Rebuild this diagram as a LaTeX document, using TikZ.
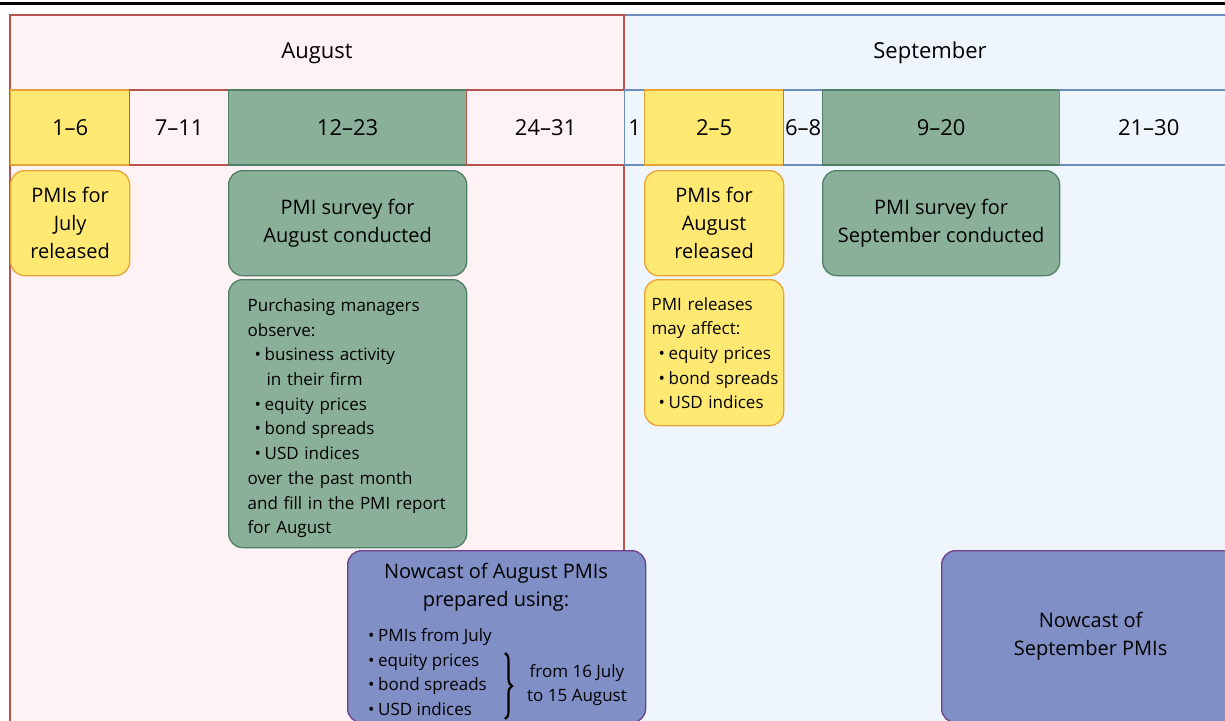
\documentclass[tikz,border=0pt]{standalone}
\usepackage{fontspec}
\setmainfont{Open Sans}
\usetikzlibrary{positioning, decorations.pathreplacing}

\definecolor{AugFill}{HTML}{FFF2F4}
\definecolor{AugLine}{HTML}{B85450}
\definecolor{SepFill}{HTML}{EEF5FC}
\definecolor{SepLine}{HTML}{6C8EBF}
\definecolor{RelFill}{HTML}{FFE972}
\definecolor{RelLine}{HTML}{E8A434}
\definecolor{SrvFill}{HTML}{8AB09A}
\definecolor{SrvLine}{HTML}{4F7F66}
\definecolor{NowFill}{HTML}{808FC5}
\definecolor{NowLine}{HTML}{6F3F8C}

\newcommand{\headfont}{\fontsize{22}{28}\selectfont}
\newcommand{\mainfont}{\fontsize{20}{28}\selectfont}
\newcommand{\smallfont}{\fontsize{17}{24.7}\selectfont}
\newcommand{\itm}[1]{\mbox{\hspace*{7pt}\makebox[10pt][l]{•}#1}}

\tikzset{
  cell/.style={draw, line width=1.3pt, inner sep=0pt, minimum height=75pt,
    anchor=west, font=\headfont},
  augcell/.style={draw=AugLine, fill=AugFill},
  sepcell/.style={draw=SepLine, fill=SepFill},
  relcell/.style={draw=RelLine, fill=RelFill},
  srvcell/.style={draw=SrvLine, fill=SrvFill},
  card/.style={rounded corners=14pt, line width=1.3pt, anchor=north west,
    align=center, font=\mainfont, inner sep=0pt},
  relbox/.style={card, draw=RelLine, fill=RelFill},
  srvbox/.style={card, draw=SrvLine, fill=SrvFill},
  nowbox/.style={card, draw=NowLine, fill=NowFill},
}

\begin{document}
\begin{tikzpicture}[x=1pt, y=-1pt]
  \useasboundingbox (0,0) rectangle (1225,720);
  \clip (0,0) rectangle (1225,720);

  % Rule at the top
  \draw[line width=3pt] (0,3) -- (1225,3);

  % Month frames
  \draw[SepLine, fill=SepFill, line width=1.3pt] (624,15) rectangle (1260,760);
  \draw[AugLine, fill=AugFill, line width=1.3pt] (10,15) rectangle (624,760);
  \node[font=\headfont] (aug) at (317,53) {August};
  \node[font=\headfont] (sep) at (930,53) {September};

  % Day ranges
  \foreach \lab/\x/\w/\sty [count=\i] in
      {1--6/10/119/relcell, 7--11/129/99/augcell,
       12--23/228/238/srvcell, 24--31/466/158/augcell}
    \node[cell, \sty, minimum width=\w pt] (augd\i) at (\x,127.5) {\lab};
  \foreach \lab/\x/\w/\sty [count=\i] in
      {1/624/20/sepcell, 2--5/644/139/relcell, 6--8/783/39/sepcell,
       9--20/822/237/srvcell, 21--30/1059/178/sepcell}
    \node[cell, \sty, minimum width=\w pt] (sepd\i) at (\x,127.5) {\lab};

  % August boxes
  \node[relbox, minimum width=119pt, minimum height=105pt] (julRel)
    at (10,170) {PMIs for\\July\\released};
  \node[srvbox, minimum width=238pt, minimum height=105pt] (augSrv)
    at (228,170) {PMI survey for\\August conducted};
  \node[srvbox, minimum width=238pt, minimum height=268pt, text width=200pt,
        align=left, inner xsep=19pt, font=\smallfont] (augObs) at (228,279)
    {\rule{0pt}{22pt}Purchasing managers\\observe:\\\itm{business activity}\\
     \hspace*{19pt}in their firm\\\itm{equity prices}\\\itm{bond spreads}\\
     \itm{USD indices}\\over the past month\\and fill in the PMI report\\for August};

  % September boxes
  \node[relbox, minimum width=139pt, minimum height=105pt] (augRel)
    at (644,170) {PMIs for\\August\\released};
  \node[relbox, minimum width=139pt, minimum height=146pt, text width=125pt,
        align=left, inner xsep=7pt, font=\smallfont] (relEff) at (644,279)
    {\rule{0pt}{14pt}PMI releases\\may affect:\\\itm{equity prices}\\\itm{bond spreads}\\
     \itm{USD indices}};
  \node[srvbox, minimum width=237pt, minimum height=105pt] (sepSrv)
    at (822,170) {PMI survey for\\September conducted};

  % Nowcasts
  \node[nowbox, minimum width=298pt, minimum height=172pt] (augNow) at (347,550) {};
  \node[font=\mainfont, align=center] (augNowT) at (496,587)
    {Nowcast of August PMIs\\prepared using:};
  \node[font=\smallfont, align=left, anchor=west, inner sep=0pt] (augNowL)
    at (361,672) {\itm{PMIs from July}\\\itm{equity prices}\\
     \itm{bond spreads}\\\itm{USD indices}};
  \coordinate (braceTop) at (505,653);
  \coordinate (braceBot) at (505,719);
  \draw[decorate, decoration={brace, amplitude=7pt}, line width=2.2pt]
    (braceTop) -- (braceBot);
  \node[font=\smallfont, align=center] (augNowR) at (577,685)
    {from 16 July\\to 15 August};
  \node[nowbox, minimum width=298pt, minimum height=172pt] (sepNow) at (941,550)
    {Nowcast of\\September PMIs};
\end{tikzpicture}
\end{document}
